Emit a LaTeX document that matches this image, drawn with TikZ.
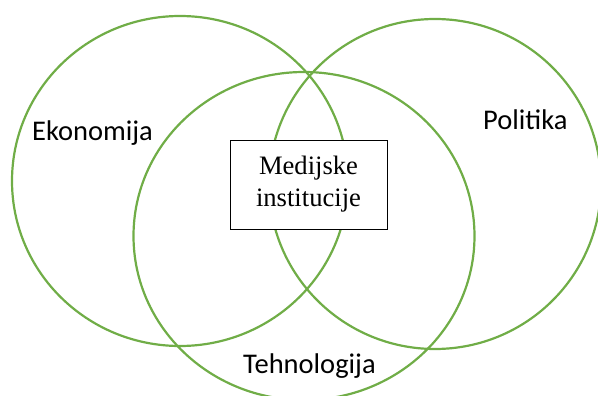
\documentclass[tikz,border=0pt]{standalone}
\usepackage{fontspec}
\setmainfont{Liberation Serif}
\newfontfamily\labelfont{Carlito}
\definecolor{ringgreen}{HTML}{70AD47}
\begin{document}
\begin{tikzpicture}[x=1pt,y=-1pt,
  ring/.style={draw=ringgreen, line width=2.2pt},
  setlabel/.style={anchor=base west, inner sep=0pt, font=\labelfont\fontsize{28.5}{34}\selectfont},
  centerbox/.style={draw=black, line width=0.9pt, fill=white, minimum width=157pt, minimum height=89pt, inner sep=0pt, align=center, font=\fontsize{26.6}{32}\selectfont}]
\useasboundingbox (0,0) rectangle (598,396);
\clip (0,0) rectangle (598,396);
\draw[ring] (180,181) ellipse [x radius=168, y radius=165];
\draw[ring] (435,184) ellipse [x radius=166, y radius=165];
\draw[ring] (304,236) ellipse [x radius=170.5, y radius=164];
\node[centerbox] (media) at (308.5,184.5) {Medijske\\institucije};
\node[setlabel] (eko) at (32,140) {Ekonomija};
\node[setlabel] (pol) at (483,130) {Politika};
\node[setlabel] (teh) at (243,373) {Tehnologija};
\end{tikzpicture}
\end{document}
